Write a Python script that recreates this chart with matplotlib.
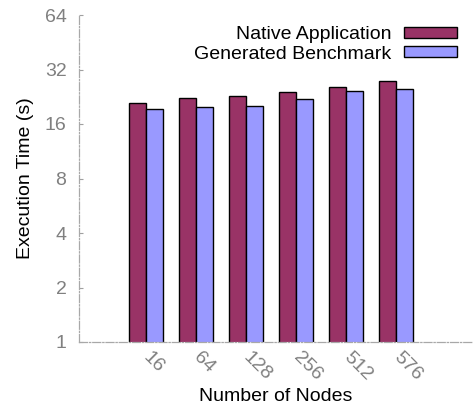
import numpy as np
import matplotlib.pyplot as plt
from matplotlib.ticker import FixedLocator, NullLocator

# execution time per run size, seconds
nodes = ['16', '64', '128', '256', '512', '576']
native_app = [20.9, 22.4, 22.8, 23.9, 25.6, 27.5]
generated_bench = [19.4, 19.9, 20.1, 22.0, 24.3, 25.1]
y_ticks = [1, 2, 4, 8, 16, 32, 64]

plt.rcParams['font.family'] = ['Liberation Sans', 'DejaVu Sans']
plt.rcParams['font.size'] = 14

fig = plt.figure(figsize=(4.75, 4.13), dpi=100)
ax = fig.add_axes([79 / 475, 71 / 413, 394 / 475, 327 / 413])

x = np.arange(len(nodes))
w = 0.34
ax.bar(x - w / 2, native_app, w, color='#993366', edgecolor='black',
       linewidth=1, label='Native Application')
ax.bar(x + w / 2, generated_bench, w, color='#9999ff', edgecolor='black',
       linewidth=1, label='Generated Benchmark')

ax.set_yscale('log', base=2)
ax.set_ylim(1, 64)
ax.set_xlim(-1.34, 6.54)
ax.yaxis.set_major_locator(FixedLocator(y_ticks))
ax.yaxis.set_minor_locator(NullLocator())
ax.set_yticklabels([str(v) for v in y_ticks])

ax.set_xticks(x)
ax.set_xticklabels(nodes, rotation=-45, ha='left', va='center', rotation_mode='anchor')

ax.tick_params(axis='y', direction='in', length=3, width=0.8, color='#a0a0a0',
               labelcolor='#808080', pad=9, labelsize=14)
ax.tick_params(axis='x', length=0, labelcolor='#808080', pad=9, labelsize=14)

for side in ('top', 'right'):
    ax.spines[side].set_visible(False)
for side in ('left', 'bottom'):
    ax.spines[side].set_color('#a8a8a8')
    ax.spines[side].set_linestyle('-.')
    ax.spines[side].set_linewidth(0.9)

ax.set_ylabel('Execution Time (s)', labelpad=8)
ax.set_xlabel('Number of Nodes', labelpad=3)

ax.legend(loc='upper right', bbox_to_anchor=(0.995, 1.007), markerfirst=False,
          frameon=False, handlelength=2.75, handleheight=0.5, labelspacing=0.12,
          handletextpad=0.65, borderpad=0.2, fontsize=14)

fig.savefig('out.png', dpi=100)
